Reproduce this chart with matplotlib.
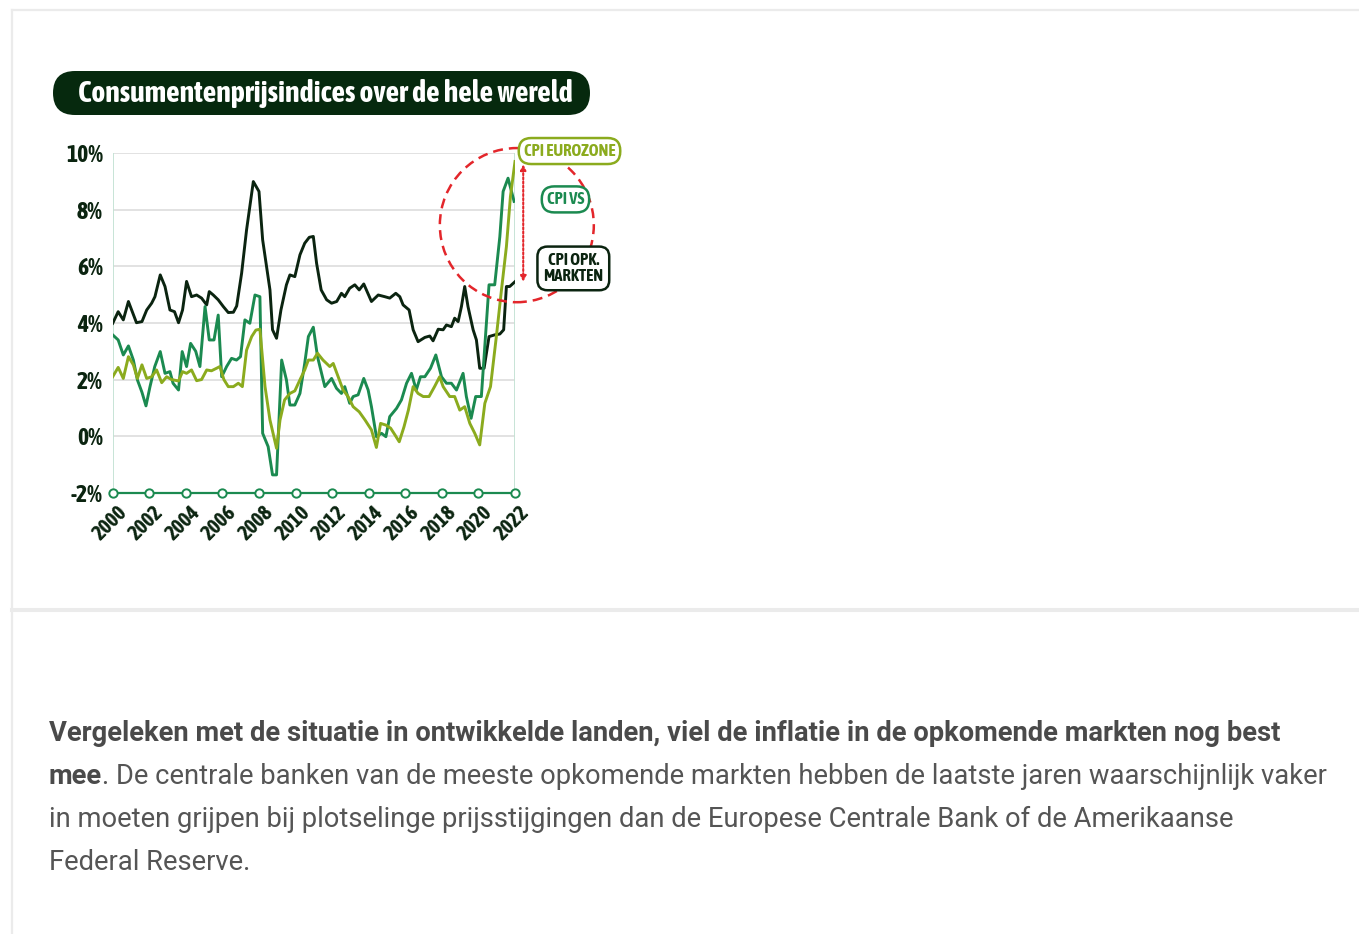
import matplotlib
matplotlib.use('Agg')
import matplotlib.pyplot as plt
import matplotlib.transforms as mtransforms
from matplotlib import font_manager as fm
from matplotlib.patches import FancyBboxPatch, Ellipse
from matplotlib.lines import Line2D

# ---- data ----
em_x = [2000.0, 2000.3, 2000.58, 2000.86, 2001.3, 2001.6, 2001.86, 2002.13, 2002.31, 2002.6,
        2002.86, 2003.13, 2003.38, 2003.6, 2003.82, 2004.04, 2004.31, 2004.59, 2004.86, 2005.14,
        2005.28, 2005.5, 2005.77, 2006.05, 2006.32, 2006.6, 2006.78, 2007.05, 2007.32, 2007.69,
        2008.0, 2008.2, 2008.6, 2008.74, 2008.96, 2009.2, 2009.5, 2009.69, 2009.96, 2010.24,
        2010.5, 2010.75, 2010.97, 2011.15, 2011.4, 2011.7, 2011.97, 2012.25, 2012.51, 2012.69,
        2012.96, 2013.24, 2013.48, 2013.73, 2014.15, 2014.52, 2014.88, 2015.15, 2015.48, 2015.7,
        2015.88, 2016.21, 2016.43, 2016.7, 2017.07, 2017.34, 2017.52, 2017.8, 2018.07, 2018.25,
        2018.52, 2018.7, 2018.89, 2019.07, 2019.25, 2019.43, 2019.71, 2019.89, 2020.07, 2020.31,
        2020.58, 2020.89, 2021.17, 2021.38, 2021.53, 2021.71, 2022.0]
em_y = [3.99, 4.40, 4.11, 4.76, 4.01, 4.05, 4.46, 4.70, 4.93, 5.70,
        5.29, 4.46, 4.40, 4.01, 4.46, 5.47, 4.93, 4.99, 4.88, 4.64,
        5.11, 4.99, 4.82, 4.58, 4.37, 4.38, 4.60, 5.76, 7.29, 9.00,
        8.65, 6.94, 5.17, 3.76, 3.46, 4.46, 5.35, 5.70, 5.64, 6.41,
        6.82, 7.03, 7.06, 6.11, 5.17, 4.82, 4.70, 4.76, 5.05, 4.93,
        5.23, 5.35, 5.17, 5.38, 4.76, 4.99, 4.93, 4.88, 5.05, 4.93,
        4.64, 4.46, 3.76, 3.34, 3.49, 3.54, 3.37, 3.78, 3.76, 3.93,
        3.87, 4.17, 4.05, 4.58, 5.29, 4.58, 3.76, 3.40, 2.40, 2.40,
        3.52, 3.58, 3.61, 3.76, 5.29, 5.29, 5.46]

us_x = [2000.0, 2000.3, 2000.58, 2000.86, 2001.13, 2001.35, 2001.6, 2001.82, 2002.04, 2002.3,
        2002.6, 2002.86, 2003.13, 2003.3, 2003.6, 2003.8, 2004.04, 2004.26, 2004.54, 2004.77,
        2005.05, 2005.28, 2005.54, 2005.77, 2005.96, 2006.23, 2006.5, 2006.77, 2006.99, 2007.23,
        2007.5, 2007.78, 2008.05, 2008.2, 2008.5, 2008.74, 2008.96, 2009.24, 2009.5, 2009.69,
        2009.96, 2010.24, 2010.5, 2010.7, 2010.97, 2011.2, 2011.6, 2011.97, 2012.24, 2012.51,
        2012.69, 2012.96, 2013.15, 2013.42, 2013.73, 2013.97, 2014.15, 2014.42, 2014.7, 2014.94,
        2015.15, 2015.52, 2015.79, 2016.07, 2016.34, 2016.6, 2016.83, 2017.07, 2017.38, 2017.67,
        2017.98, 2018.25, 2018.52, 2018.8, 2019.16, 2019.34, 2019.6, 2019.85, 2020.16, 2020.58,
        2020.89, 2021.17, 2021.35, 2021.62, 2021.95]
us_y = [3.58, 3.40, 2.87, 3.19, 2.69, 1.99, 1.55, 1.07, 1.75, 2.46,
        2.99, 2.22, 2.28, 1.87, 1.63, 2.99, 2.46, 3.28, 3.00, 2.46,
        4.58, 3.40, 3.40, 4.28, 2.10, 2.46, 2.75, 2.69, 2.81, 4.11,
        3.99, 4.99, 4.93, 0.10, -0.37, -1.37, -1.37, 2.69, 1.99, 1.10,
        1.10, 1.51, 2.57, 3.52, 3.85, 2.81, 1.75, 2.04, 1.69, 1.51,
        1.75, 1.16, 1.40, 1.46, 2.04, 1.63, 1.04, -0.02, 0.10, -0.02,
        0.69, 0.98, 1.28, 1.87, 2.22, 1.63, 2.10, 2.10, 2.40, 2.87,
        2.10, 1.87, 1.87, 1.63, 2.22, 1.40, 0.63, 1.40, 1.40, 5.35,
        5.35, 7.05, 8.65, 9.12, 8.30]

ez_x = [2000.0, 2000.3, 2000.58, 2000.86, 2001.13, 2001.35, 2001.6, 2001.86, 2002.13, 2002.4,
        2002.68, 2002.95, 2003.22, 2003.6, 2003.82, 2004.04, 2004.31, 2004.59, 2004.86, 2005.14,
        2005.4, 2005.68, 2005.86, 2006.08, 2006.32, 2006.6, 2006.87, 2007.09, 2007.32, 2007.6,
        2007.83, 2008.05, 2008.33, 2008.6, 2008.96, 2009.15, 2009.4, 2009.69, 2009.96, 2010.24,
        2010.5, 2010.7, 2010.97, 2011.2, 2011.5, 2011.87, 2012.06, 2012.33, 2012.6, 2012.87,
        2013.15, 2013.48, 2013.8, 2014.15, 2014.42, 2014.65, 2014.94, 2015.2, 2015.44, 2015.67,
        2015.93, 2016.17, 2016.43, 2016.7, 2016.98, 2017.3, 2017.6, 2017.88, 2018.07, 2018.43,
        2018.7, 2018.98, 2019.25, 2019.53, 2019.8, 2020.07, 2020.35, 2020.66, 2020.98, 2021.26,
        2021.53, 2021.75, 2022.0]
ez_y = [2.10, 2.43, 2.04, 2.81, 2.52, 2.04, 2.52, 2.04, 2.10, 2.34,
        1.89, 2.10, 2.00, 1.95, 2.28, 2.22, 2.34, 1.96, 2.00, 2.34,
        2.31, 2.40, 2.46, 2.00, 1.75, 1.75, 1.87, 1.75, 3.04, 3.52,
        3.75, 3.78, 1.75, 0.57, -0.43, 0.57, 1.28, 1.51, 1.60, 1.99,
        2.34, 2.69, 2.69, 2.93, 2.69, 2.46, 2.57, 2.10, 1.63, 1.40,
        1.04, 0.86, 0.57, 0.22, -0.40, 0.45, 0.39, 0.28, 0.04, -0.20,
        0.33, 0.92, 1.75, 1.51, 1.40, 1.40, 1.75, 2.10, 1.75, 1.40,
        1.40, 0.92, 1.04, 0.45, 0.10, -0.31, 1.16, 1.75, 3.52, 5.17,
        6.70, 8.47, 9.71]

jaren = list(range(2000, 2023, 2))
y_ticks = [-2, 0, 2, 4, 6, 8, 10]
y_labels = ['-2%', '0%', '2%', '4%', '6%', '8%', '10%']

titel = 'Consumentenprijsindices over de hele wereld'
label_ez = 'CPI EUROZONE'
label_vs = 'CPI VS'
label_em = 'CPI OPK.\nMARKTEN'

regel1 = 'Vergeleken met de situatie in ontwikkelde landen, viel de inflatie in de opkomende markten nog best'
regel2_vet = 'mee'
regel2 = '. De centrale banken van de meeste opkomende markten hebben de laatste jaren waarschijnlijk vaker'
regel3 = 'in moeten grijpen bij plotselinge prijsstijgingen dan de Europese Centrale Bank of de Amerikaanse'
regel4 = 'Federal Reserve.'

# ---- kleuren ----
DONKER = '#0b2410'
PIL = '#06290e'
GROEN = '#1b8a50'
GEEL = '#8bab1e'
ROOD = '#e3262b'
GRIJS = '#555555'
RAND = '#ebebeb'

W, H = 1359, 934


def smal_vet():
    """Zoekt een smalle, vette letter (condensed) tussen de geinstalleerde fonts."""
    kandidaten = []
    for f in fm.fontManager.ttflist:
        naam = f.name
        smal = (f.stretch in ('condensed', 'extra-condensed', 'ultra-condensed', 'semi-condensed')
                or 'Narrow' in naam or 'Condensed' in naam or naam in ('Oswald', 'Bebas Neue'))
        if not smal or f.style != 'normal':
            continue
        w = f.weight if isinstance(f.weight, int) else fm.weight_dict.get(f.weight, 400)
        rang = 0 if f.stretch in ('condensed', 'extra-condensed') else 1
        kandidaten.append((abs(w - 700), rang, naam, f.fname))
    if kandidaten:
        kandidaten.sort()
        return fm.FontProperties(fname=kandidaten[0][3])
    return fm.FontProperties(family='DejaVu Sans', weight='bold')


SMAL = smal_vet()

fig = plt.figure(figsize=(W / 100, H / 100), dpi=100)
fig.patch.set_facecolor('white')
inch = fig.dpi_scale_trans
renderer = fig.canvas.get_renderer()


def pas_breedte(t, doel_px):
    w = t.get_window_extent(renderer).width
    t.set_fontsize(t.get_fontsize() * doel_px / w)


# ---- paginaranden ----
fig.add_artist(Line2D([0.12, W / 100], [9.24, 9.24], transform=inch, color=RAND, lw=1.6))
fig.add_artist(Line2D([0.12, 0.12], [0, 9.24], transform=inch, color=RAND, lw=1.6))
fig.add_artist(Line2D([0.12, W / 100], [3.245, 3.245], transform=inch, color=RAND, lw=2.9))

# ---- titel ----
fig.add_artist(FancyBboxPatch((0.53, 8.19), 5.37, 0.44, transform=inch,
                              boxstyle='round,pad=0,rounding_size=0.22',
                              fc=PIL, ec='none'))
t = fig.text(3.25, 9.34 - 1.025, titel, transform=inch, color='white',
             fontproperties=SMAL, fontsize=20, ha='center', va='baseline')
pas_breedte(t, 494)

# ---- grafiek ----
ax = fig.add_axes([112.7 / W, 1 - 492.7 / H, 402.3 / W, 339.4 / H])
ax.set_xlim(2000, 2022)
ax.set_ylim(-2, 10)
for s in ax.spines.values():
    s.set_visible(False)

for v in y_ticks[1:]:
    ax.axhline(v, color='#dadada', lw=1.1, zorder=1)
ax.axvline(2000, color='#c3e2d3', lw=1.3, zorder=1)
ax.axvline(2022, color='#c3e2d3', lw=1.3, zorder=1)

ax.plot(em_x, em_y, color=DONKER, lw=2.1, solid_joinstyle='round', zorder=3)
ax.plot(us_x, us_y, color=GROEN, lw=2.1, solid_joinstyle='round', zorder=3)
ax.plot(ez_x, ez_y, color=GEEL, lw=2.1, solid_joinstyle='round', zorder=3)

# as onderaan met rondjes
ax.plot(jaren, [-2] * len(jaren), color=GROEN, lw=1.6, marker='o', ms=6,
        mfc='white', mec=GROEN, mew=1.4, clip_on=False, zorder=4)

ax.set_xticks([])
ax.set_yticks(y_ticks)
ax.set_yticklabels(y_labels, fontproperties=SMAL, fontsize=17, color=DONKER)
ax.tick_params(axis='y', length=0, pad=7)

off_x = mtransforms.ScaledTranslation(4 / 100, -9 / 100, inch)
for j in jaren:
    ax.text(j, -2, str(j), transform=ax.transData + off_x, rotation=45,
            rotation_mode='anchor', ha='right', va='top', fontproperties=SMAL,
            fontsize=15, color=DONKER, clip_on=False)

# rode cirkel en pijl
ax.add_patch(Ellipse((2022.1, 7.46), 8.42, 5.45, fill=False, ec=ROOD, lw=1.8,
                     ls=(0, (4, 2.4)), clip_on=False, zorder=5))
ax.annotate('', xy=(2022.45, ez_y[-1] - 0.1), xytext=(2022.45, em_y[-1]),
            arrowprops=dict(arrowstyle='<|-|>', ls=(0, (1, 1)), color=ROOD, lw=1.5,
                            mutation_scale=8, shrinkA=0, shrinkB=0),
            annotation_clip=False, zorder=5)

# labels
ax.text(2024.98, 10.08, label_ez, ha='center', va='center', fontproperties=SMAL,
        fontsize=12, color=GEEL, clip_on=False, zorder=6,
        bbox=dict(boxstyle='round,pad=0.3,rounding_size=0.75', fc='white', ec=GEEL, lw=1.8))
ax.text(2024.76, 8.37, label_vs, ha='center', va='center', fontproperties=SMAL,
        fontsize=12, color=GROEN, clip_on=False, zorder=6,
        bbox=dict(boxstyle='round,pad=0.3,rounding_size=0.75', fc='white', ec=GROEN, lw=1.8))
ax.text(2025.19, 5.93, label_em, ha='center', va='center', fontproperties=SMAL,
        fontsize=12, color=DONKER, clip_on=False, zorder=6, linespacing=1.0,
        bbox=dict(boxstyle='round,pad=0.35,rounding_size=0.6', fc='white', ec=DONKER, lw=1.8))

# ---- tekst onder de grafiek ----
x0 = 0.49
t1 = fig.text(x0, 9.34 - 7.41, regel1, transform=inch, fontfamily='Roboto',
              fontweight='bold', fontsize=17, color='#4a4a4a', va='baseline')
pas_breedte(t1, 1233)
t3 = fig.text(x0, 9.34 - 8.27, regel3, transform=inch, fontfamily='Roboto',
              fontsize=17, color=GRIJS, va='baseline')
pas_breedte(t3, 1189)
t2a = fig.text(x0, 9.34 - 7.84, regel2_vet, transform=inch, fontfamily='Roboto',
               fontweight='bold', fontsize=t1.get_fontsize(), color='#4a4a4a', va='baseline')
breedte = t2a.get_window_extent(renderer).width / 100
fig.text(x0 + breedte, 9.34 - 7.84, regel2, transform=inch, fontfamily='Roboto',
         fontsize=t3.get_fontsize(), color=GRIJS, va='baseline')
fig.text(x0, 9.34 - 8.70, regel4, transform=inch, fontfamily='Roboto',
         fontsize=t3.get_fontsize(), color=GRIJS, va='baseline')

fig.savefig('out.png', dpi=100)
